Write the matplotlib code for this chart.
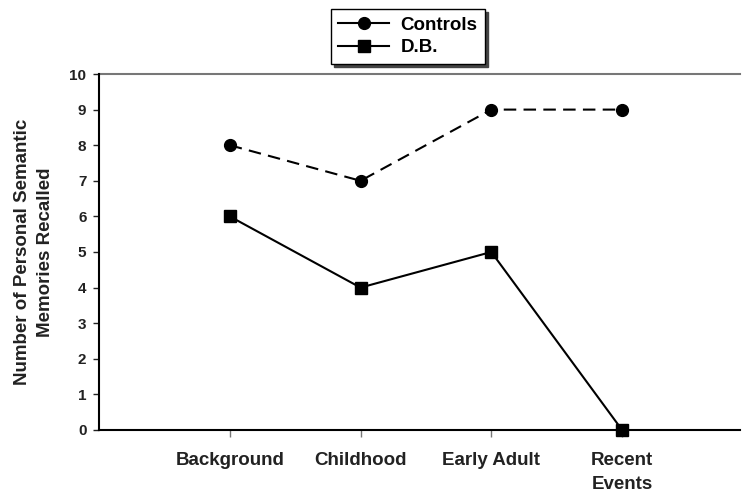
import matplotlib
matplotlib.use("Agg")
import matplotlib.pyplot as plt

# --------------------------------------------------
# 데이터
# --------------------------------------------------
categories = ["Background", "Childhood", "Early Adult", "Recent\nEvents"]
controls = [8, 7, 9, 9]
db = [6, 4, 5, 0]
yticks = list(range(0, 11))

plt.rcParams["font.family"] = ["Liberation Sans", "DejaVu Sans"]
plt.rcParams["font.weight"] = "bold"

fig = plt.figure(figsize=(7.42, 4.94), dpi=100)
ax = fig.add_axes([0.1334, 0.1296, 0.8636, 0.7206])

x = list(range(1, len(categories) + 1))
ax.plot(x, controls, color="black", linestyle=(0, (6, 3.5)), linewidth=1.5,
        marker="o", markersize=8.5, label="Controls")
ax.plot(x, db, color="black", linestyle="-", linewidth=1.5,
        marker="s", markersize=8.5, label="D.B.", clip_on=False, zorder=5)

ax.set_xlim(0, 4.9)
ax.set_ylim(0, 10)
ax.set_yticks(yticks)
ax.set_xticks(x)
ax.set_xticklabels(categories, fontsize=13.5, fontweight="bold", color="#222222",
                   linespacing=1.5)
ax.tick_params(axis="y", labelsize=11, direction="out", length=4, width=1,
               colors="#222222", pad=5)
ax.tick_params(axis="x", direction="out", length=5, width=1, pad=11,
               color="#777777", labelcolor="#222222")

ax.spines["right"].set_visible(False)
ax.spines["top"].set_visible(False)
ax.spines["left"].set_linewidth(1.5)
ax.spines["bottom"].set_linewidth(1.5)
ax.axhline(10, color="#777777", linewidth=1.5, clip_on=False)

ax.set_ylabel("Number of Personal Semantic\nMemories Recalled", fontsize=13.5,
              fontweight="bold", labelpad=11, color="#222222", linespacing=1.5)

leg = ax.legend(loc="upper center", bbox_to_anchor=(0.482, 1.1826), frameon=True,
                fancybox=False, shadow={"color": "#444444", "alpha": 1.0},
                prop={"weight": "bold", "size": 13.5}, handlelength=2.7,
                borderpad=0.4, labelspacing=0.3, handletextpad=0.6,
                borderaxespad=0)
leg.get_frame().set_edgecolor("black")
leg.get_frame().set_linewidth(1.0)
for line in leg.get_lines():
    line.set_linestyle("-")

fig.savefig("out.png", dpi=100)
